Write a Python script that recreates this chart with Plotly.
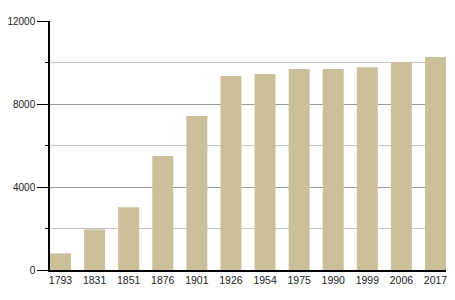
import plotly.graph_objects as go

years = ["1793", "1831", "1851", "1876", "1901", "1926", "1954", "1975", "1990", "1999", "2006", "2017"]
population = [800, 1960, 3020, 5500, 7420, 9350, 9450, 9690, 9690, 9770, 10020, 10270]
y_tick_vals = [0, 4000, 8000, 12000]
y_tick_text = ["0", "4000", "8000", "12000"]

idx = list(range(len(years)))
bw = 0.616

fig = go.Figure(go.Bar(x=idx, y=population, width=bw, marker=dict(color="#cbbf9a", line=dict(width=0))))

fig.update_layout(
    width=455, height=300,
    margin=dict(l=50, r=9, t=21, b=30, autoexpand=False),
    plot_bgcolor="white", paper_bgcolor="white",
    font=dict(family="Liberation Sans, Arial, sans-serif", size=10, color="#222"),
    showlegend=False,
)
fig.update_xaxes(
    range=[-bw / 2, len(years) - 1 + bw / 2],
    tickvals=idx, ticktext=years, showgrid=False, automargin=False,
    showline=True, linecolor="black", linewidth=1.5, ticks="", tickfont=dict(size=10.5),
)
fig.update_yaxes(
    range=[0, 12000], tickvals=y_tick_vals, ticktext=y_tick_text, automargin=False,
    showgrid=True, gridcolor="#999999", gridwidth=1, tickfont=dict(size=10),
    showline=True, linecolor="black", linewidth=1.5,
    ticks="outside", ticklen=11, tickcolor="black", tickwidth=1, zeroline=False,
    minor=dict(dtick=2000, tick0=0, ticks="outside", ticklen=3, tickcolor="black",
               showgrid=True, gridcolor="#c4c4c4", gridwidth=1),
)
fig.write_html("out.html")
